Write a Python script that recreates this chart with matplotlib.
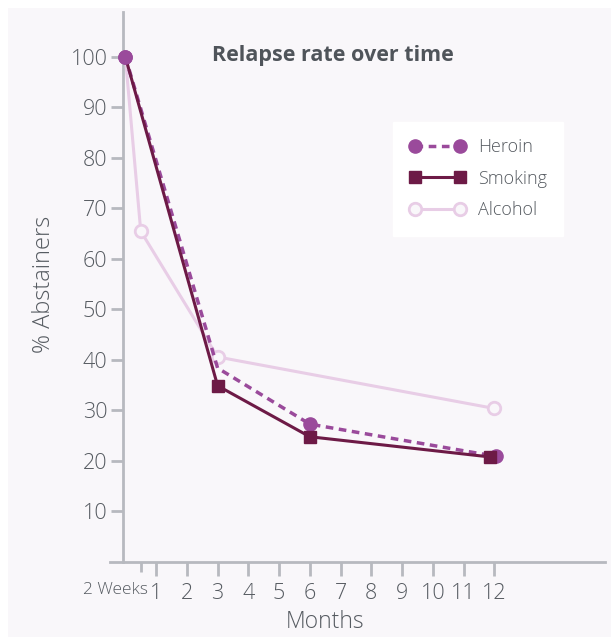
import matplotlib.pyplot as plt
from matplotlib.patches import Rectangle
import matplotlib.transforms as mtransforms

plt.rcParams['font.family'] = ['Open Sans', 'DejaVu Sans']

# datos (meses, % abstemios)
meses_heroina = [0, 3, 6, 12.07]
heroina = [100, 38.4, 27.3, 20.9]

meses_tabaco = [0, 3, 6, 11.86]
tabaco = [100, 34.9, 24.8, 20.8]

meses_alcohol = [0, 0.5, 3, 12]
alcohol = [100, 65.5, 40.6, 30.4]

ticks_x = [0.5, 1, 2, 3, 4, 5, 6, 7, 8, 9, 10, 11, 12]
etiquetas_x = ['2 Weeks', '1', '2', '3', '4', '5', '6', '7', '8', '9', '10', '11', '12']
ticks_y = [10, 20, 30, 40, 50, 60, 70, 80, 90, 100]

fondo = '#f9f7fa'
gris = '#b7b9bf'
texto = '#565b61'
c_heroina = '#9a4a9b'
c_tabaco = '#6d1a46'
c_alcohol = '#e8cde6'

fig = plt.figure(figsize=(6.11, 6.37), dpi=100)
fig.patches.append(Rectangle((8 / 611, 0), 1, 1 - 8 / 637, transform=fig.transFigure,
                             facecolor=fondo, edgecolor='none', zorder=-5))
ax = fig.add_axes([110 / 611, 75 / 637, 495 / 611, 550 / 637])
ax.set_zorder(2)
ax.set_facecolor('none')

ax.plot(meses_alcohol, alcohol, color=c_alcohol, lw=2.2, marker='o', markevery=[1, 2, 3],
        markersize=9, markerfacecolor=fondo, markeredgecolor=c_alcohol, markeredgewidth=2,
        label='Alcohol', zorder=3)
ax.plot(meses_heroina, heroina, color=c_heroina, lw=2.5, ls=(0, (2.2, 1.6)), marker='o',
        markevery=[0, 2, 3], markersize=9.5, label='Heroin', zorder=4)
ax.plot(meses_tabaco, tabaco, color=c_tabaco, lw=2.2, marker='s', markevery=[1, 2, 3],
        markersize=8.5, label='Smoking', zorder=5)
# punto inicial de heroina encima
ax.plot(meses_heroina[0], heroina[0], 'o', color=c_heroina, markersize=9.5, zorder=6)

ax.set_xlim(-0.5, 15.6)
ax.set_ylim(0, 108.9)

for s in ['top', 'right']:
    ax.spines[s].set_visible(False)
ax.spines['left'].set_position(('data', -0.09))
ax.spines['left'].set_color(gris)
ax.spines['left'].set_linewidth(2)
ax.spines['bottom'].set_color(gris)
ax.spines['bottom'].set_linewidth(2)

ax.set_yticks(ticks_y)
ax.set_yticklabels([str(v) for v in ticks_y])
ax.tick_params(axis='y', length=9, width=2, color=gris, labelcolor=texto, labelsize=15.5, pad=2)
ax.set_xticks(ticks_x)
ax.set_xticklabels(etiquetas_x)
ax.tick_params(axis='x', length=10, width=2, color=gris, labelcolor=texto, labelsize=15.5, pad=5)
ax.xaxis.get_major_ticks()[0].tick1line.set_markersize(7)
for t in ax.get_xticklabels() + ax.get_yticklabels():
    t.set_fontweight('light')

lbl = ax.get_xticklabels()[0]
lbl.set_fontsize(12.5)
lbl.set_ha('right')
lbl.set_transform(lbl.get_transform() + mtransforms.ScaledTranslation(7 / 100, 1 / 100, fig.dpi_scale_trans))

ax.set_xlabel('Months', fontsize=16.5, color=texto, fontweight='light')
ax.xaxis.set_label_coords((325 - 110) / 495, -0.087)
ax.set_ylabel('% Abstainers', fontsize=17, color=texto, fontweight='light')
ax.yaxis.set_label_coords((56 - 110) / 495, (562 - 284) / 550)

fig.text(333 / 611, 1 - 56 / 637, 'Relapse rate over time', ha='center', va='center',
         fontsize=15.5, fontweight='bold', color='#4f545a')

handles, labels = ax.get_legend_handles_labels()
orden = [1, 2, 0]
leg = ax.legend([handles[i] for i in orden], [labels[i] for i in orden],
                loc='upper left', bbox_to_anchor=((393 - 110) / 495, (562 - 122) / 550),
                frameon=True, fancybox=False, framealpha=1, edgecolor='white',
                fontsize=13, numpoints=2, handlelength=3.1, handletextpad=0.7,
                labelspacing=0.75, borderpad=0.9, borderaxespad=0)
leg.get_frame().set_facecolor('white')
for t in leg.get_texts():
    t.set_color(texto)
    t.set_fontweight('light')

fig.savefig('out.png', dpi=100)
